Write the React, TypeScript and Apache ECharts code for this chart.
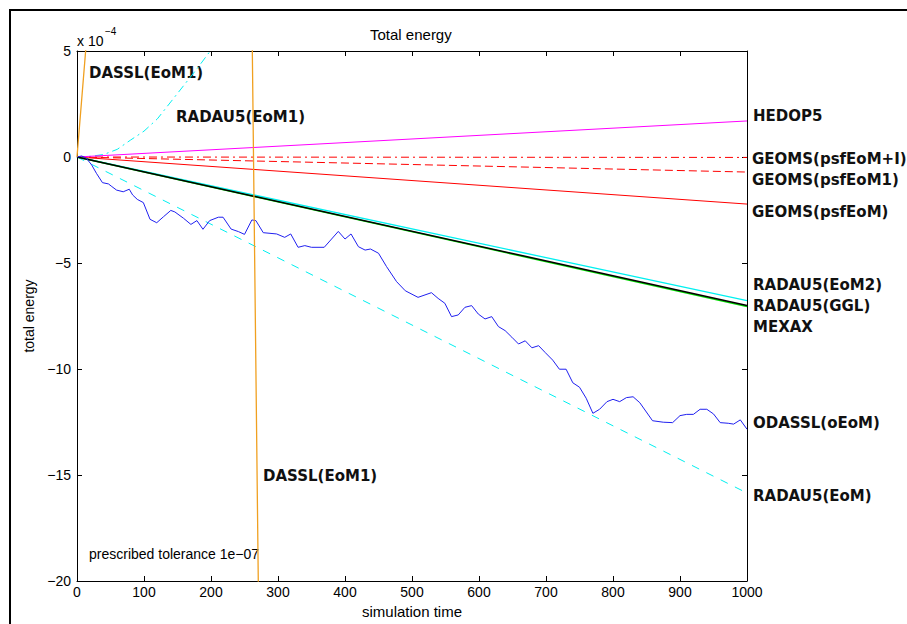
import React, { useEffect, useRef } from "react";
import * as echarts from "echarts";

// ---- data (energy in units of 1e-4) ----
const lineT = [0, 1000];
const hedop5 = [0, 1.7];
const geomsPlusI = [0, -0.02];
const geomsEoM1 = [0, -0.71];
const geomsEoM = [0, -2.22];
const radau5EoM2 = [0, -6.78];
const radau5GGL = [0, -7.05];
const mexax = [0, -7.0];
const radau5EoM = [0, -15.85];

const radau5EoM1T = [0, 20, 40, 60, 80, 100, 120, 140, 160, 180, 200, 220];
const radau5EoM1E = [0, 0.03, 0.12, 0.36, 0.8, 1.22, 1.8, 2.6, 3.4, 4.2, 5.05, 6.0];

const dasslT = [0, 231.5, 300];
const dasslE = [0, 89.8, -102.7];

const odasslT = [
  0, 7, 14, 22, 29, 38, 47, 51, 59, 69, 78, 83, 90, 99, 109, 119, 129, 140, 146, 159,
  170, 179, 188, 198, 211, 218, 230, 241, 250, 261, 267, 278, 298, 310, 319, 330, 340,
  350, 369, 390, 400, 409, 420, 430, 438, 450, 462, 477, 490, 509, 529, 539, 549, 559,
  569, 579, 589, 599, 609, 619, 629, 639, 649, 659, 669, 679, 689, 699, 710, 720, 730,
  740, 750, 760, 770, 780, 791, 800, 810, 820, 830, 840, 859, 875, 889, 900, 910, 920,
  930, 940, 950, 960, 972, 980, 990, 1000,
];
const odasslE = [
  0, 0.05, -0.06, -0.38, -0.77, -1.21, -1.27, -1.37, -1.56, -1.64, -1.52, -1.79, -2.0,
  -2.15, -2.94, -3.1, -2.82, -2.52, -2.59, -2.89, -3.18, -3.0, -3.41, -3.0, -2.84, -2.84,
  -3.4, -3.52, -3.65, -2.97, -3.0, -3.57, -3.63, -3.79, -3.63, -4.26, -4.18, -4.26, -4.26,
  -3.51, -3.87, -3.63, -4.23, -4.39, -4.34, -4.54, -5.17, -5.88, -6.31, -6.62, -6.4,
  -6.67, -6.9, -7.53, -7.45, -7.09, -7.01, -7.41, -7.64, -7.53, -8.0, -8.19, -8.5, -8.82,
  -8.67, -9.0, -8.9, -9.23, -9.58, -10.01, -10.01, -10.65, -10.86, -11.38, -12.09, -11.9,
  -11.54, -11.43, -11.54, -11.35, -11.31, -11.59, -12.44, -12.51, -12.53, -12.2, -12.14,
  -12.14, -11.9, -11.9, -12.12, -12.53, -12.56, -12.6, -12.4, -12.84,
];

const xTicks = [0, 100, 200, 300, 400, 500, 600, 700, 800, 900, 1000];
const yTicks = [-20, -15, -10, -5, 0, 5];

const zip = (t: number[], e: number[]) => t.map((x, i) => [x, e[i]]);

const LBL = {
  fontFamily: "DejaVu Sans",
  fontWeight: "bold" as const,
  fontSize: 15,
  fill: "#111",
  verticalAlign: "middle" as const,
};

function label(text: string, x: number, y: number) {
  return { type: "text", x, y, style: { ...LBL, text } };
}

export default function App() {
  const ref = useRef<HTMLDivElement>(null);
  useEffect(() => {
    const chart = echarts.init(ref.current!, null, { renderer: "svg" });
    const minus = (v: number) => (v < 0 ? "\u2212" + Math.abs(v) : String(v));
    const axisCommon = {
      type: "value" as const,
      axisLine: { show: true, onZero: false, lineStyle: { color: "#000", width: 1 } },
      axisTick: { show: true, inside: true, length: 5, lineStyle: { color: "#000" } },
      splitLine: { show: false },
    };
    const lbl = { color: "#000", fontSize: 14, fontFamily: "Liberation Sans" };
    const mk = (name: string, data: number[][], color: string, type: any = "solid", width = 1) => ({
      name,
      type: "line",
      data,
      showSymbol: false,
      symbol: "none",
      clip: true,
      lineStyle: { color, width, type },
      z: 2,
    });
    chart.setOption({
      animation: false,
      backgroundColor: "#fff",
      title: {
        text: "Total energy",
        left: 370,
        top: 27,
        padding: 0,
        textStyle: { fontSize: 15, fontWeight: "normal", color: "#000", fontFamily: "Liberation Sans" },
      },
      grid: { left: 77, top: 51, width: 670, height: 530, containLabel: false },
      xAxis: [
        {
          ...axisCommon,
          min: xTicks[0],
          max: xTicks[xTicks.length - 1],
          interval: 100,
          position: "bottom",
          name: "simulation time",
          nameLocation: "middle",
          nameGap: 21,
          nameTextStyle: { ...lbl, fontSize: 15 },
          axisLabel: { ...lbl, margin: 4, formatter: (v: number) => String(v) },
        },
        {
          ...axisCommon,
          min: 0,
          max: 1000,
          interval: 100,
          position: "top",
          axisLabel: { show: false },
        },
      ],
      yAxis: [
        {
          ...axisCommon,
          min: yTicks[0],
          max: yTicks[yTicks.length - 1],
          interval: 5,
          position: "left",
          name: "total energy",
          nameLocation: "middle",
          nameGap: 37,
          nameTextStyle: { ...lbl, fontSize: 14 },
          axisLabel: { ...lbl, margin: 6, formatter: minus },
        },
        {
          ...axisCommon,
          min: -20,
          max: 5,
          interval: 5,
          position: "right",
          axisLabel: { show: false },
        },
      ],
      series: [
        mk("RADAU5(EoM)", zip(lineT, radau5EoM), "#00f0f0", [8, 8]),
        mk("RADAU5(EoM1)", zip(radau5EoM1T, radau5EoM1E), "#00f0f0", [8, 4, 2, 4]),
        mk("GEOMS(psfEoM+I)", zip(lineT, geomsPlusI), "#ff0000", [8, 4, 2, 4]),
        mk("GEOMS(psfEoM1)", zip(lineT, geomsEoM1), "#ff0000", [8, 4]),
        mk("GEOMS(psfEoM)", zip(lineT, geomsEoM), "#ff0000"),
        mk("HEDOP5", zip(lineT, hedop5), "#ff00ff"),
        mk("RADAU5(EoM2)", zip(lineT, radau5EoM2), "#00f0f0", "solid", 1.3),
        mk("RADAU5(GGL)", zip(lineT, radau5GGL), "#00e000", "solid", 1.5),
        mk("MEXAX", zip(lineT, mexax), "#000000", "solid", 1.5),
        mk("ODASSL(oEoM)", zip(odasslT, odasslE), "#2020f0"),
        mk("DASSL(EoM1)", zip(dasslT, dasslE), "#f0a020", "solid", 1.3),
      ],
      graphic: [
        {
          type: "rect",
          shape: { x: 10, y: 10, width: 1200, height: 1000 },
          style: { fill: "none", stroke: "#000", lineWidth: 2 },
          silent: true,
        },
        { type: "text", x: 77, y: 41, style: { text: "x 10", fontSize: 14, fontFamily: "Liberation Sans", fill: "#000", verticalAlign: "middle" } },
        { type: "text", x: 105, y: 31, style: { text: "\u22124", fontSize: 10, fontFamily: "Liberation Sans", fill: "#000", verticalAlign: "middle" } },
        label("DASSL(EoM1)", 89, 73),
        label("RADAU5(EoM1)", 176, 117),
        label("HEDOP5", 753, 116),
        label("GEOMS(psfEoM+I)", 752, 159),
        label("GEOMS(psfEoM1)", 752, 180),
        label("GEOMS(psfEoM)", 752, 212),
        label("RADAU5(EoM2)", 753, 285),
        label("RADAU5(GGL)", 753, 306),
        label("MEXAX", 753, 327),
        label("ODASSL(oEoM)", 753, 423),
        label("RADAU5(EoM)", 753, 496),
        label("DASSL(EoM1)", 263, 476),
        {
          type: "text",
          x: 89,
          y: 554,
          style: { text: "prescribed tolerance 1e\u221207", fontSize: 14, fontFamily: "Liberation Sans", fill: "#000", verticalAlign: "middle" },
        },
      ],
    });
    return () => chart.dispose();
  }, []);
  return (
    <div
      ref={ref}
      style={{ position: "fixed", left: 0, top: 0, width: 907, height: 624, background: "#fff" }}
    />
  );
}
